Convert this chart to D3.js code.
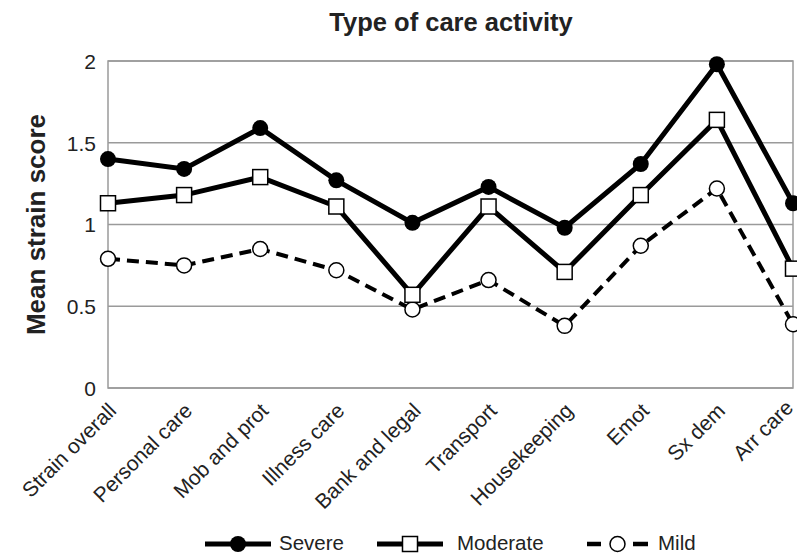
<!DOCTYPE html>
<html>
<head>
<meta charset="utf-8">
<script src="https://cdnjs.cloudflare.com/ajax/libs/d3/7.8.5/d3.min.js"></script>
<style>
  body { margin: 0; background: #fff; }
  text { font-family: "Liberation Sans", Arial, sans-serif; fill: #222; }
</style>
</head>
<body>
<script>
const categories = ['Strain overall', 'Personal care', 'Mob and prot', 'Illness care',
  'Bank and legal', 'Transport', 'Housekeeping', 'Emot', 'Sx dem', 'Arr care'];
const severe = [1.40, 1.34, 1.59, 1.27, 1.01, 1.23, 0.98, 1.37, 1.98, 1.13];
const moderate = [1.13, 1.18, 1.29, 1.11, 0.57, 1.11, 0.71, 1.18, 1.64, 0.73];
const mild = [0.79, 0.75, 0.85, 0.72, 0.48, 0.66, 0.38, 0.87, 1.22, 0.39];
const yTicks = [0, 0.5, 1, 1.5, 2];

const width = 797;
const height = 554;
const margin = { top: 61, right: 4, bottom: 166, left: 108 };

const svg = d3.select('body').append('svg')
  .attr('width', width)
  .attr('height', height);

const x = d3.scalePoint()
  .domain(categories)
  .range([margin.left, width - margin.right]);

const y = d3.scaleLinear()
  .domain([0, 2])
  .range([height - margin.bottom, margin.top]);

// gridlines
svg.append('g')
  .selectAll('line')
  .data(yTicks)
  .join('line')
  .attr('x1', margin.left)
  .attr('x2', width - margin.right)
  .attr('y1', d => y(d))
  .attr('y2', d => y(d))
  .style('stroke', '#9a9a9a')
  .style('stroke-width', 1.5);

// plot border
svg.append('rect')
  .attr('x', margin.left)
  .attr('y', y(2))
  .attr('width', width - margin.right - margin.left)
  .attr('height', y(0) - y(2))
  .style('fill', 'none')
  .style('stroke', '#9a9a9a')
  .style('stroke-width', 1.5);

// y axis
const yAxis = svg.append('g')
  .attr('transform', `translate(${margin.left},0)`)
  .call(d3.axisLeft(y).tickValues(yTicks).tickSize(0).tickPadding(12).tickFormat(d3.format('')));
yAxis.select('.domain').remove();
yAxis.selectAll('text')
  .style('font-size', '21px')
  .attr('dy', '0.35em');

// x axis
const xAxis = svg.append('g')
  .attr('transform', `translate(0,${y(0)})`)
  .call(d3.axisBottom(x).tickSize(0).tickPadding(0));
xAxis.select('.domain').remove();
// last label pulled in a little so it stays inside the picture
xAxis.selectAll('text')
  .style('font-size', '21px')
  .attr('text-anchor', 'end')
  .attr('y', 0)
  .attr('dy', '0')
  .attr('transform', (d, i) => (i === categories.length - 1
    ? 'translate(1,21) rotate(-45)'
    : 'translate(9,24) rotate(-45)'));

// titles
svg.append('text')
  .attr('x', 451)
  .attr('y', 31)
  .attr('text-anchor', 'middle')
  .style('font-size', '25.5px')
  .style('font-weight', 'bold')
  .text('Type of care activity');

svg.append('text')
  .attr('transform', `translate(45,${(y(0) + y(2)) / 2}) rotate(-90)`)
  .attr('text-anchor', 'middle')
  .style('font-size', '26px')
  .style('font-weight', 'bold')
  .text('Mean strain score');

const line = d3.line()
  .x((d, i) => x(categories[i]))
  .y(d => y(d));

const series = [
  { name: 'Severe', values: severe, dash: null, marker: 'dot' },
  { name: 'Moderate', values: moderate, dash: null, marker: 'square' },
  { name: 'Mild', values: mild, dash: '12,7', marker: 'ring' },
];

const drawMarker = function (g, kind, cx, cy) {
  if (kind === 'dot') {
    g.append('circle').attr('cx', cx).attr('cy', cy).attr('r', 8)
      .style('fill', '#000');
  } else if (kind === 'square') {
    g.append('rect').attr('x', cx - 7.5).attr('y', cy - 7.5)
      .attr('width', 15).attr('height', 15)
      .style('fill', '#fff').style('stroke', '#000').style('stroke-width', 1.5);
  } else {
    g.append('circle').attr('cx', cx).attr('cy', cy).attr('r', 7.5)
      .style('fill', '#fff').style('stroke', '#000').style('stroke-width', 1.5);
  }
};

// draw lines back-to-front: mild, moderate, severe
series.slice().reverse().forEach(s => {
  svg.append('path')
    .datum(s.values)
    .attr('d', line)
    .style('fill', 'none')
    .style('stroke', '#000')
    .style('stroke-width', s.marker === 'ring' ? 4 : 5)
    .style('stroke-dasharray', s.dash);
  const g = svg.append('g');
  s.values.forEach((v, i) => drawMarker(g, s.marker, x(categories[i]), y(v)));
});

// legend
const legendY = 544;
const legendItems = [
  { s: series[0], x0: 205, x1: 271, tx: 279 },
  { s: series[1], x0: 377, x1: 443, tx: 457 },
  { s: series[2], x0: 587, x1: 648, tx: 658 },
];
legendItems.forEach(item => {
  const g = svg.append('g');
  g.append('line')
    .attr('x1', item.x0).attr('x2', item.x1)
    .attr('y1', legendY).attr('y2', legendY)
    .style('stroke', '#000')
    .style('stroke-width', item.s.marker === 'ring' ? 4.5 : 5)
    .style('stroke-dasharray', item.s.marker === 'ring' ? '14,32,15' : null);
  drawMarker(g, item.s.marker, (item.x0 + item.x1) / 2, legendY);
  g.append('text')
    .attr('x', item.tx)
    .attr('y', 549.5)
    .style('font-size', '20.5px')
    .text(item.s.name);
});
</script>
</body>
</html>
